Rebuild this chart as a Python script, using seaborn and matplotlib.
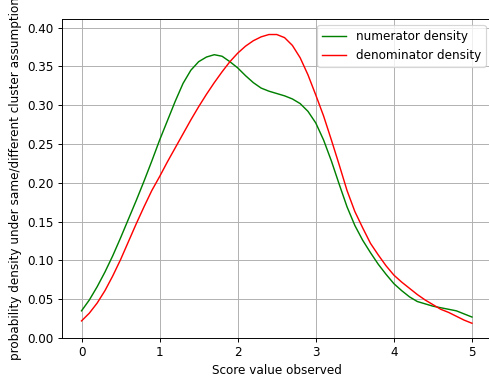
import matplotlib
matplotlib.use("Agg")
import matplotlib.pyplot as plt
import seaborn as sns
import numpy as np
import pandas as pd

score = [round(0.1 * i, 1) for i in range(51)]

numerator = [
    0.035, 0.049, 0.066, 0.085, 0.106, 0.129, 0.153, 0.177, 0.202, 0.228,
    0.255, 0.280, 0.305, 0.328, 0.345, 0.356, 0.362, 0.365, 0.363, 0.356,
    0.348, 0.338, 0.329, 0.322, 0.318, 0.315, 0.312, 0.308, 0.302, 0.292,
    0.277, 0.255, 0.228, 0.198, 0.169, 0.145, 0.126, 0.110, 0.095, 0.082,
    0.070, 0.061, 0.053, 0.047, 0.044, 0.041, 0.039, 0.037, 0.035, 0.031,
    0.027,
]

denominator = [
    0.022, 0.032, 0.045, 0.061, 0.080, 0.101, 0.124, 0.147, 0.169, 0.190,
    0.208, 0.227, 0.245, 0.263, 0.281, 0.298, 0.314, 0.329, 0.343, 0.356,
    0.367, 0.376, 0.383, 0.388, 0.391, 0.391, 0.387, 0.377, 0.361, 0.339,
    0.313, 0.286, 0.255, 0.223, 0.190, 0.163, 0.142, 0.122, 0.107, 0.093,
    0.081, 0.072, 0.064, 0.056, 0.049, 0.043, 0.037, 0.033, 0.028, 0.023,
    0.019,
]

df = pd.DataFrame({"score": score, "num": numerator, "den": denominator})

DPI = 86
fig = plt.figure(figsize=(489 / DPI, 382 / DPI), dpi=DPI)
ax = fig.add_axes([62 / 489, 44 / 382, 429.5 / 489, 319 / 382])

sns.lineplot(data=df, x="score", y="num", ax=ax, color="green", linewidth=1.2,
             label="numerator density", solid_joinstyle="round")
sns.lineplot(data=df, x="score", y="den", ax=ax, color="red", linewidth=1.2,
             label="denominator density", solid_joinstyle="round")

ax.set_xlim(-0.25, 5.25)
ax.set_ylim(0, 0.411)
ax.set_yticks(np.arange(0, 0.401, 0.05))
ax.set_xticks([0, 1, 2, 3, 4, 5])
ax.grid(True)
ax.set_xlabel("Score value observed")
ax.set_ylabel("probability density under same/different cluster assumption")
ax.legend(loc="upper right")

fig.savefig("out.png", dpi=DPI)
